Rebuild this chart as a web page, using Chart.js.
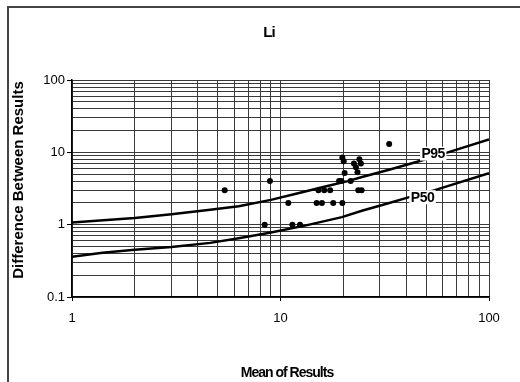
<!DOCTYPE html>
<html>
<head>
<meta charset="utf-8">
<script src="https://cdn.jsdelivr.net/npm/chart.js@4.4.0/dist/chart.umd.min.js"></script>
<style>
  html, body { margin: 0; padding: 0; background: #fff; }
  #wrap { width: 520px; height: 382px; }
</style>
</head>
<body>
<div id="wrap"><canvas id="chart" width="520" height="382"></canvas></div>
<script>
// Duplicate results: mean of the pair vs. difference between them
const meanValues = [5.4, 8.4, 8.9, 10.9, 11.4, 12.4, 14.9, 15.2, 15.8, 16.2, 17.3, 17.9,
  19.1, 19.6, 19.8, 19.8, 20.1, 20.3, 21.7, 22.5, 23.0, 23.4, 23.6, 23.9, 24.3, 24.5, 33.2]
const diffValues = [3, 1, 4, 2, 1, 1, 2, 3, 2, 3, 3, 2,
  4, 4, 2, 8.5, 7.5, 5.2, 4, 7, 6.2, 5.3, 3, 8, 7, 3, 13]

// Repeatability limit curves
const p95Mean = [1, 2, 3, 4.6, 6.3, 9, 12, 16.6, 21, 24.6, 33.5, 46.6, 63, 100]
const p95Diff = [1.07, 1.24, 1.39, 1.61, 1.8, 2.2, 2.7, 3.4, 4.0, 4.55, 5.8, 7.6, 9.9, 15.1]
const p50Mean = [1, 1.4, 2, 3, 4.6, 6.3, 9, 13.1, 19.7, 24.8, 32.3, 40.3, 55, 100]
const p50Diff = [0.36, 0.41, 0.45, 0.49, 0.56, 0.65, 0.78, 0.97, 1.27, 1.57, 1.95, 2.35, 3.0, 5.15]

const curveNames = ['P95', 'P50']
const curveLabelMean = [54, 48]
const curveLabelDiff = [9.6, 2.4]

const xTicks = [1, 10, 100]
const yTicks = [0.1, 1, 10, 100]

const FONT = '"Liberation Sans", Arial, Helvetica, sans-serif'
Chart.defaults.font.family = FONT
Chart.defaults.color = '#000'

function toPoints(xs, ys) {
  return xs.map((v, i) => ({ x: v, y: ys[i] }))
}

function listed(list, value) {
  return list.find(t => Math.abs(t - value) < t * 1e-6)
}

// keep only 1..9 steps in each decade (drop the 1.5 / 15 extras)
function wholeSteps(scale) {
  scale.ticks = scale.ticks.filter(t => {
    const m = t.value / Math.pow(10, Math.floor(Math.log10(t.value) + 1e-9))
    return Math.abs(m - Math.round(m)) < 1e-6
  })
}

const decorations = {
  id: 'decorations',
  afterDatasetsDraw(chart) {
    const { ctx, scales: { x, y } } = chart
    ctx.save()
    ctx.font = 'bold 14px ' + FONT
    ctx.letterSpacing = '-0.5px'
    ctx.textAlign = 'center'
    ctx.textBaseline = 'middle'
    curveNames.forEach((name, i) => {
      const px = x.getPixelForValue(curveLabelMean[i])
      const py = y.getPixelForValue(curveLabelDiff[i])
      const w = ctx.measureText(name).width + 3
      ctx.fillStyle = '#fff'
      ctx.fillRect(px - w / 2, py - 7, w, 14)
      ctx.fillStyle = '#000'
      ctx.fillText(name, px, py + 1)
    })
    ctx.restore()
  },
  afterDraw(chart) {
    const { ctx } = chart
    ctx.save()
    // outer frame
    ctx.strokeStyle = '#444'
    ctx.lineWidth = 2
    ctx.beginPath()
    ctx.moveTo(8, 382)
    ctx.lineTo(8, 7)
    ctx.lineTo(520, 7)
    ctx.stroke()

    ctx.fillStyle = '#000'
    ctx.textAlign = 'center'
    ctx.textBaseline = 'middle'

    ctx.font = 'bold 15px ' + FONT
    ctx.letterSpacing = '-1px'
    ctx.fillText('Li', 269, 33)

    ctx.font = 'bold 14px ' + FONT
    ctx.fillText('Mean of Results', 287, 373)

    ctx.letterSpacing = '0px'
    ctx.font = 'bold 15px ' + FONT
    ctx.translate(19, 180)
    ctx.rotate(-Math.PI / 2)
    ctx.fillText('Difference Between Results', 0, 0)
    ctx.restore()
  }
}

new Chart(document.getElementById('chart'), {
  type: 'scatter',
  data: {
    datasets: [
      {
        label: 'Results',
        data: toPoints(meanValues, diffValues),
        pointRadius: 3,
        pointBackgroundColor: '#000',
        pointBorderWidth: 0,
        order: 0
      },
      {
        label: 'P95',
        data: toPoints(p95Mean, p95Diff),
        showLine: true,
        borderColor: '#000',
        borderWidth: 2.5,
        pointRadius: 0,
        order: 1
      },
      {
        label: 'P50',
        data: toPoints(p50Mean, p50Diff),
        showLine: true,
        borderColor: '#000',
        borderWidth: 2.5,
        pointRadius: 0,
        order: 1
      }
    ]
  },
  options: {
    responsive: false,
    animation: false,
    layout: { padding: { left: 9, right: 31, top: 80, bottom: 0 } },
    plugins: {
      legend: { display: false },
      tooltip: { enabled: false }
    },
    scales: {
      x: {
        type: 'logarithmic',
        min: 1,
        max: 100,
        afterBuildTicks: wholeSteps,
        afterFit: s => { s.height = 85 },
        grid: {
          color: '#3a3a3a',
          lineWidth: 1,
          tickLength: 4,
          tickColor: c => (c.tick && listed(xTicks, c.tick.value) ? '#000' : 'rgba(0,0,0,0)')
        },
        border: { color: '#000', width: 1.5 },
        ticks: {
          autoSkip: false,
          maxRotation: 0,
          padding: 10,
          font: { size: 13 },
          callback: v => {
            const t = listed(xTicks, v)
            return t === undefined ? '' : String(t)
          }
        }
      },
      y: {
        type: 'logarithmic',
        min: 0.1,
        max: 100,
        afterBuildTicks: wholeSteps,
        afterFit: s => { s.width = 63 },
        grid: {
          color: '#3a3a3a',
          lineWidth: 1,
          tickLength: 5,
          tickColor: c => (c.tick && listed(yTicks, c.tick.value) ? '#000' : 'rgba(0,0,0,0)')
        },
        border: { color: '#000', width: 1.5 },
        ticks: {
          autoSkip: false,
          padding: 2,
          font: { size: 13 },
          callback: v => {
            const t = listed(yTicks, v)
            return t === undefined ? '' : String(t)
          }
        }
      }
    }
  },
  plugins: [decorations]
})
</script>
</body>
</html>
